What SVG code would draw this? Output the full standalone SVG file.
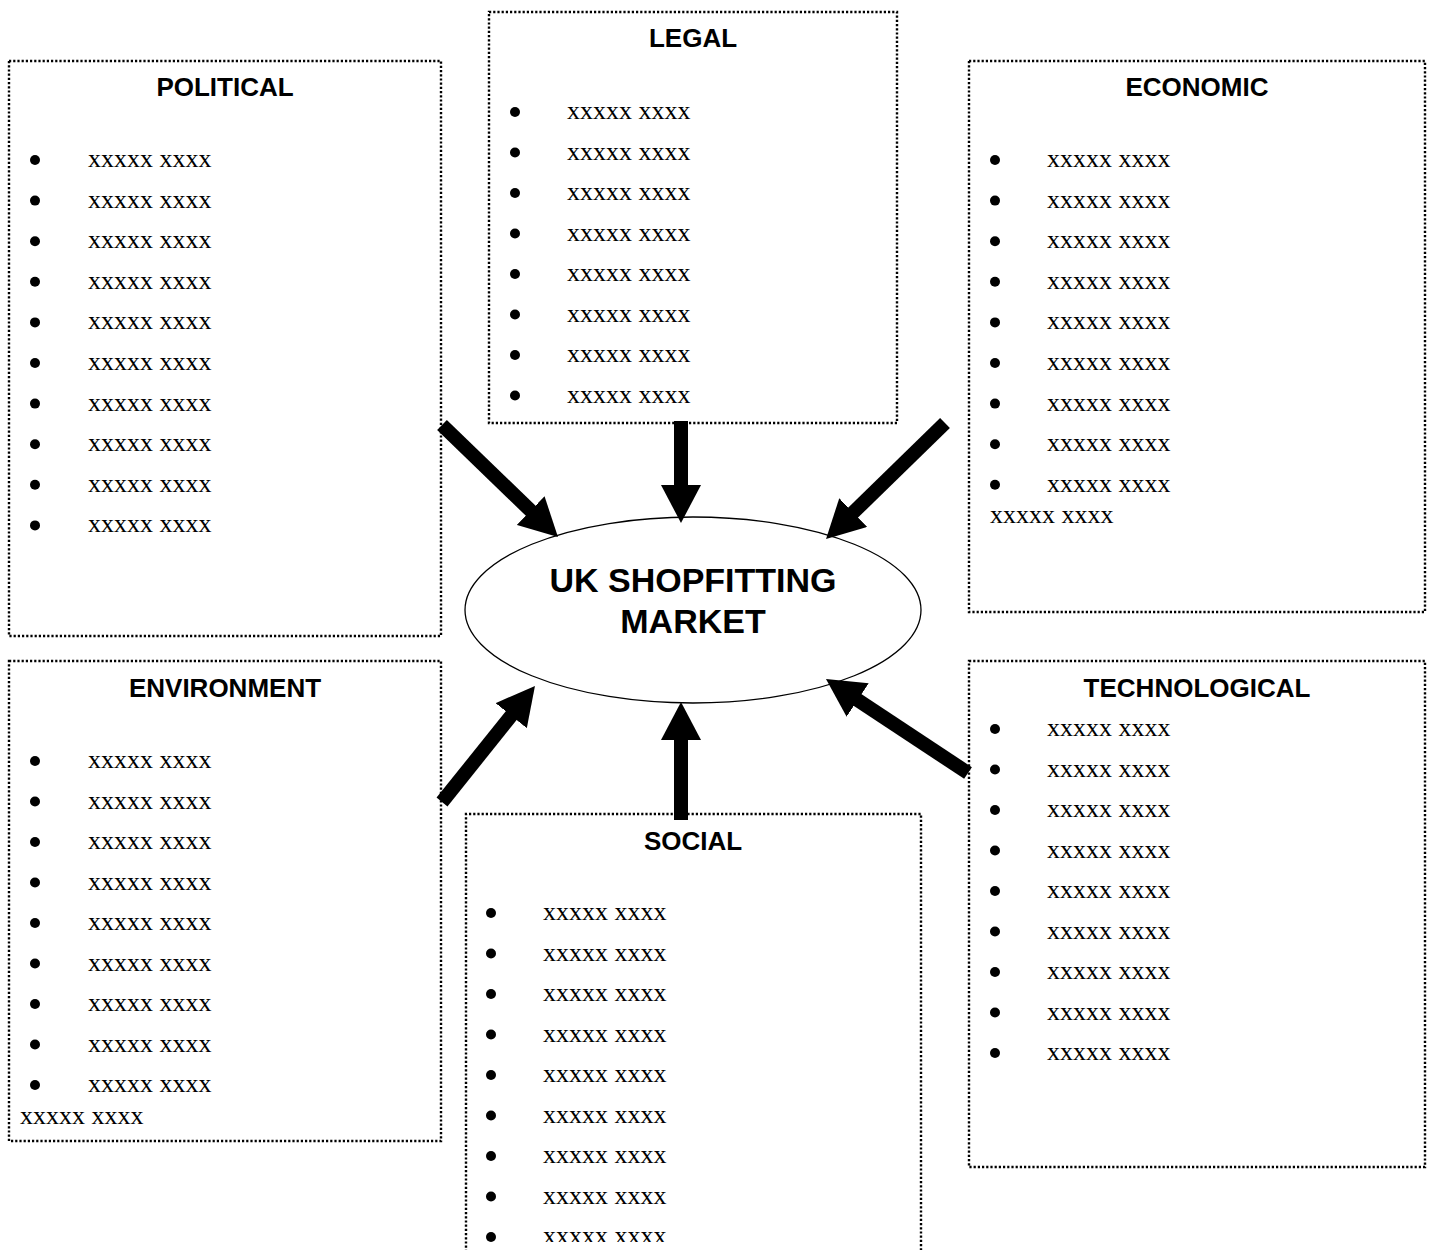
<svg xmlns="http://www.w3.org/2000/svg" width="1432" height="1250" viewBox="0 0 1432 1250">
<style>
.box{fill:none;stroke:#000;stroke-width:2.4;stroke-dasharray:2.2 2}
.hd{font-family:"Liberation Sans",Arial,sans-serif;font-weight:bold;font-size:26px;text-anchor:middle;fill:#000}
.tt{font-family:"Liberation Sans",Arial,sans-serif;font-weight:bold;font-size:34px;text-anchor:middle;fill:#000}
.it{font-family:"Liberation Serif","Times New Roman",serif;font-size:26px;fill:#000}
.bl{fill:#000}
.ar{stroke:#000;stroke-width:14;fill:none}
</style>
<defs>
<marker id="ah" markerUnits="userSpaceOnUse" markerWidth="38" markerHeight="40" refX="8" refY="20" orient="auto" viewBox="0 0 38 40">
<path d="M0,0 L38,20 L0,40 Z" fill="#000"/>
</marker>
<clipPath id="pg"><rect x="0" y="0" width="1432" height="1242"/></clipPath>
</defs>
<rect width="1432" height="1250" fill="#fff"/>

<g id="political">
<rect class="box" x="9" y="61" width="432" height="575"/>
<text class="hd" x="225" y="96">POLITICAL</text>
<g class="bl"><circle cx="35" cy="160" r="5"/><circle cx="35" cy="200.6" r="5"/><circle cx="35" cy="241.2" r="5"/><circle cx="35" cy="281.8" r="5"/><circle cx="35" cy="322.4" r="5"/><circle cx="35" cy="363" r="5"/><circle cx="35" cy="403.6" r="5"/><circle cx="35" cy="444.2" r="5"/><circle cx="35" cy="484.8" r="5"/><circle cx="35" cy="525.4" r="5"/></g>
<g class="it"><text x="88" y="167">xxxxx xxxx</text><text x="88" y="207.6">xxxxx xxxx</text><text x="88" y="248.2">xxxxx xxxx</text><text x="88" y="288.8">xxxxx xxxx</text><text x="88" y="329.4">xxxxx xxxx</text><text x="88" y="370">xxxxx xxxx</text><text x="88" y="410.6">xxxxx xxxx</text><text x="88" y="451.2">xxxxx xxxx</text><text x="88" y="491.8">xxxxx xxxx</text><text x="88" y="532.4">xxxxx xxxx</text></g>
</g>

<g id="legal">
<rect class="box" x="489" y="12" width="408" height="411"/>
<text class="hd" x="693" y="47">LEGAL</text>
<g class="bl"><circle cx="515" cy="112" r="5"/><circle cx="515" cy="152.5" r="5"/><circle cx="515" cy="193" r="5"/><circle cx="515" cy="233.5" r="5"/><circle cx="515" cy="274" r="5"/><circle cx="515" cy="314.5" r="5"/><circle cx="515" cy="355" r="5"/><circle cx="515" cy="395.5" r="5"/></g>
<g class="it"><text x="567" y="119">xxxxx xxxx</text><text x="567" y="159.5">xxxxx xxxx</text><text x="567" y="200">xxxxx xxxx</text><text x="567" y="240.5">xxxxx xxxx</text><text x="567" y="281">xxxxx xxxx</text><text x="567" y="321.5">xxxxx xxxx</text><text x="567" y="362">xxxxx xxxx</text><text x="567" y="402.5">xxxxx xxxx</text></g>
</g>

<g id="economic">
<rect class="box" x="969" y="61" width="456" height="551"/>
<text class="hd" x="1197" y="96">ECONOMIC</text>
<g class="bl"><circle cx="995" cy="160" r="5"/><circle cx="995" cy="200.6" r="5"/><circle cx="995" cy="241.2" r="5"/><circle cx="995" cy="281.8" r="5"/><circle cx="995" cy="322.4" r="5"/><circle cx="995" cy="363" r="5"/><circle cx="995" cy="403.6" r="5"/><circle cx="995" cy="444.2" r="5"/><circle cx="995" cy="484.8" r="5"/></g>
<g class="it"><text x="1047" y="167">xxxxx xxxx</text><text x="1047" y="207.6">xxxxx xxxx</text><text x="1047" y="248.2">xxxxx xxxx</text><text x="1047" y="288.8">xxxxx xxxx</text><text x="1047" y="329.4">xxxxx xxxx</text><text x="1047" y="370">xxxxx xxxx</text><text x="1047" y="410.6">xxxxx xxxx</text><text x="1047" y="451.2">xxxxx xxxx</text><text x="1047" y="491.8">xxxxx xxxx</text><text x="990" y="523">xxxxx xxxx</text></g>
</g>

<g id="environment">
<rect class="box" x="9" y="661" width="432" height="480"/>
<text class="hd" x="225" y="697">ENVIRONMENT</text>
<g class="bl"><circle cx="35" cy="761" r="5"/><circle cx="35" cy="801.5" r="5"/><circle cx="35" cy="842" r="5"/><circle cx="35" cy="882.5" r="5"/><circle cx="35" cy="923" r="5"/><circle cx="35" cy="963.5" r="5"/><circle cx="35" cy="1004" r="5"/><circle cx="35" cy="1044.5" r="5"/><circle cx="35" cy="1085" r="5"/></g>
<g class="it"><text x="88" y="768">xxxxx xxxx</text><text x="88" y="808.5">xxxxx xxxx</text><text x="88" y="849">xxxxx xxxx</text><text x="88" y="889.5">xxxxx xxxx</text><text x="88" y="930">xxxxx xxxx</text><text x="88" y="970.5">xxxxx xxxx</text><text x="88" y="1011">xxxxx xxxx</text><text x="88" y="1051.5">xxxxx xxxx</text><text x="88" y="1092">xxxxx xxxx</text><text x="20" y="1124">xxxxx xxxx</text></g>
</g>

<g id="technological">
<rect class="box" x="969" y="661" width="456" height="506"/>
<text class="hd" x="1197" y="697">TECHNOLOGICAL</text>
<g class="bl"><circle cx="995" cy="729" r="5"/><circle cx="995" cy="769.5" r="5"/><circle cx="995" cy="810" r="5"/><circle cx="995" cy="850.5" r="5"/><circle cx="995" cy="891" r="5"/><circle cx="995" cy="931.5" r="5"/><circle cx="995" cy="972" r="5"/><circle cx="995" cy="1012.5" r="5"/><circle cx="995" cy="1053" r="5"/></g>
<g class="it"><text x="1047" y="736">xxxxx xxxx</text><text x="1047" y="776.5">xxxxx xxxx</text><text x="1047" y="817">xxxxx xxxx</text><text x="1047" y="857.5">xxxxx xxxx</text><text x="1047" y="898">xxxxx xxxx</text><text x="1047" y="938.5">xxxxx xxxx</text><text x="1047" y="979">xxxxx xxxx</text><text x="1047" y="1019.5">xxxxx xxxx</text><text x="1047" y="1060">xxxxx xxxx</text></g>
</g>

<g id="social">
<path class="box" d="M466,1252 V814 H921 V1252"/>
<text class="hd" x="693" y="850">SOCIAL</text>
<g class="bl" clip-path="url(#pg)"><circle cx="491" cy="913" r="5"/><circle cx="491" cy="953.5" r="5"/><circle cx="491" cy="994" r="5"/><circle cx="491" cy="1034.5" r="5"/><circle cx="491" cy="1075" r="5"/><circle cx="491" cy="1115.5" r="5"/><circle cx="491" cy="1156" r="5"/><circle cx="491" cy="1196.5" r="5"/><circle cx="491" cy="1237" r="5"/></g>
<g class="it" clip-path="url(#pg)"><text x="543" y="920">xxxxx xxxx</text><text x="543" y="960.5">xxxxx xxxx</text><text x="543" y="1001">xxxxx xxxx</text><text x="543" y="1041.5">xxxxx xxxx</text><text x="543" y="1082">xxxxx xxxx</text><text x="543" y="1122.5">xxxxx xxxx</text><text x="543" y="1163">xxxxx xxxx</text><text x="543" y="1203.5">xxxxx xxxx</text><text x="543" y="1244">xxxxx xxxx</text></g>
</g>

<g id="market">
<ellipse cx="693" cy="610" rx="228" ry="93" fill="#fff" stroke="#000" stroke-width="1.3"/>
<text class="tt" x="693" y="592">UK SHOPFITTING</text>
<text class="tt" x="693" y="633">MARKET</text>
</g>

<g id="connectors">
<line class="ar" x1="442" y1="425" x2="536.4" y2="516.2" marker-end="url(#ah)"/>
<line class="ar" x1="681" y1="421" x2="681" y2="493" marker-end="url(#ah)"/>
<line class="ar" x1="945" y1="423" x2="847.5" y2="518.1" marker-end="url(#ah)"/>
<line class="ar" x1="442" y1="802" x2="516.2" y2="709.4" marker-end="url(#ah)"/>
<line class="ar" x1="681" y1="820" x2="681" y2="732" marker-end="url(#ah)"/>
<line class="ar" x1="968" y1="773" x2="851" y2="695.6" marker-end="url(#ah)"/>
</g>
</svg>
